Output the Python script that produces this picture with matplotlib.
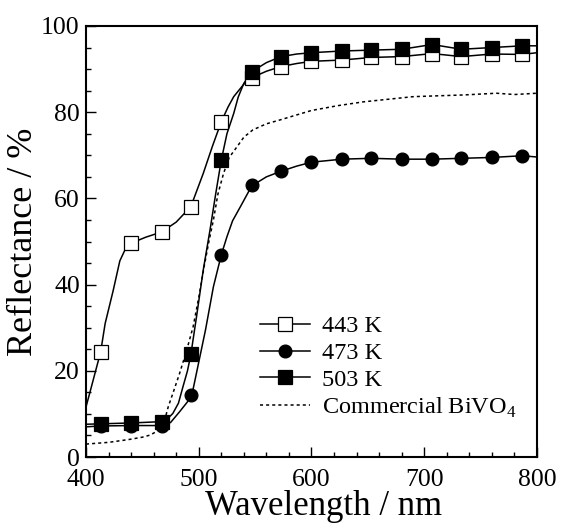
import matplotlib
matplotlib.use('Agg')
import matplotlib.pyplot as plt
from matplotlib.ticker import MultipleLocator

plt.rcParams['font.family'] = ['Liberation Serif', 'DejaVu Serif']
plt.rcParams['mathtext.fontset'] = 'custom'
plt.rcParams['mathtext.rm'] = 'Liberation Serif'

# marker positions (nm) shared by the three samples
x_marks = [413, 440, 467, 493, 520, 547, 573, 600, 627, 653, 680, 707, 733, 760, 787]
r443_marks = [24.4, 49.6, 52.2, 58.1, 77.8, 88.0, 90.6, 91.8, 92.1, 92.7, 92.9, 93.6, 92.9, 93.5, 93.4]
r473_marks = [7.2, 7.3, 7.3, 14.5, 46.9, 63.0, 66.3, 68.4, 69.1, 69.3, 69.1, 69.1, 69.3, 69.5, 69.9]
r503_marks = [7.7, 7.9, 8.2, 23.8, 68.9, 89.4, 92.9, 93.8, 94.2, 94.4, 94.6, 95.7, 94.6, 95.0, 95.4]

# spectra
x443 = [400, 405, 413, 417, 424, 430, 435, 440, 453, 467, 480, 493, 504, 512, 520,
        526, 531, 540, 547, 560, 573, 587, 600, 627, 653, 680, 707, 733, 760, 787, 800]
r443 = [11.6, 16.5, 24.4, 31.0, 38.5, 45.5, 48.3, 49.6, 51.0, 52.2, 54.5, 58.1, 65.8, 72.0, 77.8,
        81.2, 83.6, 86.5, 88.0, 89.5, 90.6, 91.3, 91.8, 92.1, 92.7, 92.9, 93.6, 92.9, 93.5, 93.4, 93.8]

x473 = [400, 413, 440, 467, 475, 483, 490, 494, 500, 506, 513, 520, 525, 530, 537,
        547, 560, 573, 587, 600, 627, 653, 680, 707, 733, 760, 787, 800]
r473 = [7.0, 7.2, 7.3, 7.3, 8.0, 10.5, 12.8, 14.5, 22.0, 29.5, 39.5, 46.9, 51.1, 54.8, 58.1,
        62.9, 65.0, 66.3, 67.5, 68.4, 69.1, 69.3, 69.1, 69.1, 69.3, 69.5, 69.9, 69.6]

x503 = [400, 413, 440, 467, 472, 477, 482, 486, 490, 493, 498, 504, 510, 515, 520,
        525, 531, 535, 540, 547, 560, 573, 587, 600, 627, 653, 680, 707, 733, 760, 787, 800]
r503 = [7.6, 7.7, 7.9, 8.2, 8.8, 10.1, 12.5, 16.3, 20.0, 23.8, 32.5, 43.4, 52.7, 61.0, 68.9,
        75.0, 79.7, 83.5, 86.7, 89.4, 91.5, 92.9, 93.5, 93.8, 94.2, 94.4, 94.6, 95.7, 94.6, 95.0, 95.4, 95.4]

x_com = [400, 420, 439, 450, 457, 463, 467, 470, 473, 478, 483, 489, 495, 500, 505,
         509, 513, 517, 522, 527, 534, 540, 548, 560, 572, 586, 600, 623, 646, 668,
         690, 712, 735, 764, 780, 800]
r_com = [3.0, 3.4, 4.1, 4.6, 5.1, 6.0, 7.0, 8.8, 11.7, 15.5, 19.4, 24.5, 30.2, 37.0, 44.5,
         50.0, 55.0, 61.0, 65.8, 69.5, 72.0, 74.2, 75.9, 77.3, 78.2, 79.3, 80.4, 81.5, 82.4, 83.0,
         83.6, 83.8, 84.0, 84.4, 84.1, 84.4]

fig = plt.figure(figsize=(5.61, 5.25), dpi=100)
ax = fig.add_axes([0.1533, 0.1295, 0.8039, 0.821])

lw = 1.1
ax.plot(x443, r443, color='k', lw=lw)
ax.plot(x473, r473, color='k', lw=lw)
ax.plot(x503, r503, color='k', lw=lw)
ax.plot(x_com, r_com, color='k', lw=lw, ls=(0, (2, 2)))

ax.plot(x_marks, r443_marks, ls='none', marker='s', ms=9.4, mfc='w', mec='k', mew=0.9)
ax.plot(x_marks, r473_marks, ls='none', marker='o', ms=9.2, mfc='k', mec='k', mew=0.9)
ax.plot(x_marks, r503_marks, ls='none', marker='s', ms=9.4, mfc='k', mec='k', mew=0.9)

# legend proxies
h1, = ax.plot([], [], color='k', lw=lw, marker='s', ms=9.4, mfc='w', mec='k', mew=0.9)
h2, = ax.plot([], [], color='k', lw=lw, marker='o', ms=9.2, mfc='k', mec='k', mew=0.9)
h3, = ax.plot([], [], color='k', lw=lw, marker='s', ms=9.4, mfc='k', mec='k', mew=0.9)
h4, = ax.plot([], [], color='k', lw=lw, ls=(0, (2, 2)))
ax.legend([h1, h2, h3, h4], ['443 K', '473 K', '503 K', r'Commercial BiVO$_\mathrm{4}$'],
          loc='center left', bbox_to_anchor=(0.386, 0.2075), frameon=False,
          fontsize=17.5, handlelength=2.05, handletextpad=0.5, labelspacing=0.2,
          borderpad=0, borderaxespad=0)

ax.set_xlim(400, 800)
ax.set_ylim(0, 100)
ax.xaxis.set_major_locator(MultipleLocator(100))
ax.xaxis.set_minor_locator(MultipleLocator(20))
ax.yaxis.set_major_locator(MultipleLocator(20))
ax.yaxis.set_minor_locator(MultipleLocator(5))
ax.tick_params(which='both', direction='in', top=False, right=False, width=1.0, labelsize=18.5)
ax.tick_params(axis='x', which='both', pad=8.5)
ax.tick_params(axis='y', which='both', pad=4.5)
ax.tick_params(which='major', length=7)
ax.tick_params(which='minor', length=3.6)
for s in ax.spines.values():
    s.set_linewidth(1.5)

ax.set_xlabel('Wavelength / nm', fontsize=25)
ax.xaxis.label.set_va('baseline')
ax.xaxis.set_label_coords(0.527, -0.135)
ax.set_ylabel('Reflectance / %', fontsize=26, labelpad=1)

fig.savefig('out.png', dpi=100)
